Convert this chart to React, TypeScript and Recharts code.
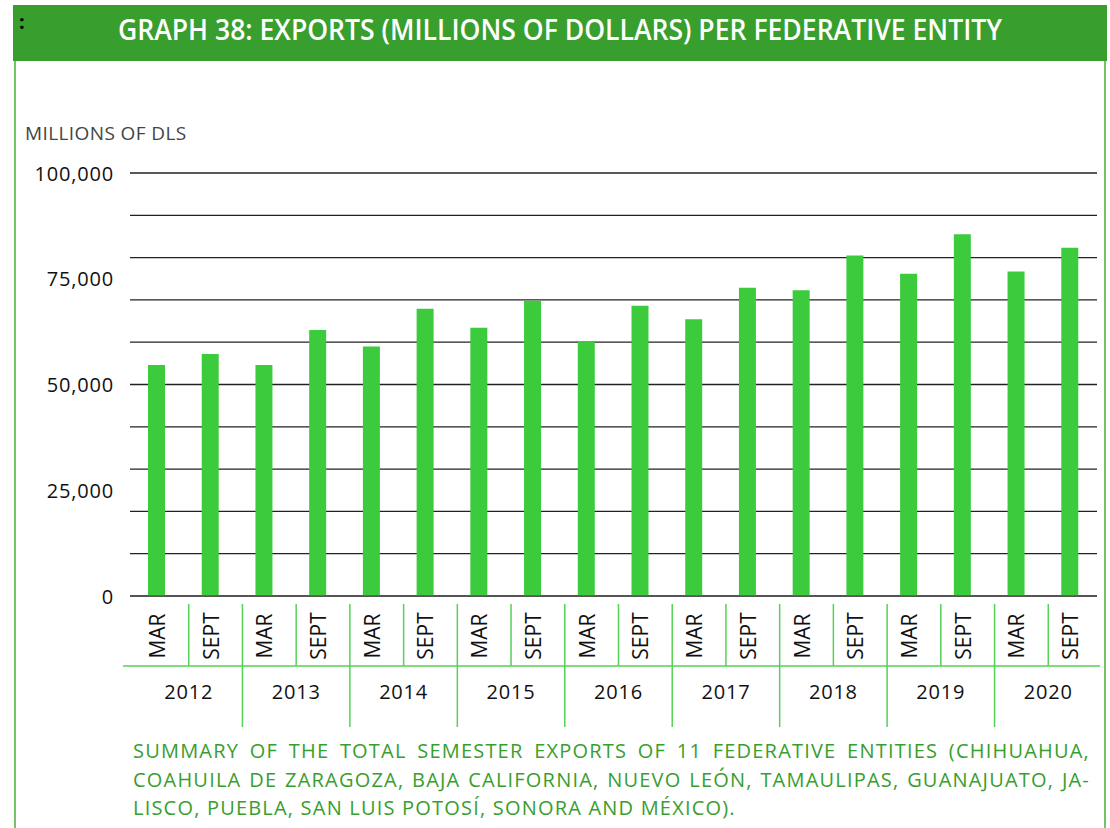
import { BarChart, Bar, XAxis, YAxis, CartesianGrid } from 'recharts';

const years = ['2012', '2013', '2014', '2015', '2016', '2017', '2018', '2019', '2020'];
const semesters = ['MAR', 'SEPT'];
// millions of dollars, MAR / SEPT per year
const exportValues = [
  54600, 57200, 54600, 62900, 59000, 67900, 63400, 69800, 60300,
  68600, 65400, 72900, 72300, 80500, 76200, 85500, 76700, 82300,
];
const gridTicks = [0, 10000, 20000, 30000, 40000, 50000, 60000, 70000, 80000, 90000, 100000];
const labelTicks = [0, 25000, 50000, 75000, 100000];

const data = exportValues.map((value, i) => ({
  key: `${years[Math.floor(i / 2)]}-${semesters[i % 2]}`,
  year: years[Math.floor(i / 2)],
  month: semesters[i % 2],
  value,
}));

const FONT = '"Open Sans", "Noto Sans", sans-serif';
const HEADER_GREEN = '#389e2e';
const BAR_GREEN = '#3bcb3c';
const TABLE_GREEN = '#55d155';
const FRAME_GREEN = '#72c466';

const PLOT_LEFT = 130;
const PLOT_RIGHT = 1097;
const STEP = (PLOT_RIGHT - PLOT_LEFT) / exportValues.length;
const TABLE_SHIFT = 5;

const TableTick = (props: any) => {
  const { x, y, payload } = props;
  const index = payload?.index ?? props.index ?? 0;
  const row = data[index];
  if (!row) return null;
  const left = x - STEP / 2 + TABLE_SHIFT;
  const right = x + STEP / 2 + TABLE_SHIFT;
  const top = y + 8;
  const mid = y + 70;
  const bottom = y + 131;
  const last = index === data.length - 1;
  return (
    <g>
      {index > 0 && (
        <line
          x1={left}
          x2={left}
          y1={top}
          y2={row.month === 'MAR' ? bottom : mid}
          stroke={TABLE_GREEN}
          strokeWidth={1.5}
        />
      )}
      <line
        x1={index === 0 ? left - 12 : left}
        x2={last ? right - 2 : right}
        y1={mid}
        y2={mid}
        stroke={TABLE_GREEN}
        strokeWidth={1.5}
      />
      <text
        transform={`translate(${x},${y + 40}) rotate(-90)`}
        textAnchor="middle"
        dominantBaseline="central"
        fontSize={21}
        fill="#111"
        fontFamily={FONT}
      >
        {row.month}
      </text>
      {row.month === 'SEPT' && (
        <text
          x={left}
          y={y + 95}
          textAnchor="middle"
          dominantBaseline="central"
          fontSize={20}
          fill="#111"
          fontFamily={FONT}
          letterSpacing={0.8}
        >
          {row.year}
        </text>
      )}
    </g>
  );
};

const YTick = (props: any) => {
  const { x, y, payload } = props;
  return (
    <text
      x={x}
      y={y}
      textAnchor="end"
      dominantBaseline="central"
      fontSize={20}
      fill="#111"
      fontFamily={FONT}
      letterSpacing={0.8}
    >
      {Number(payload.value).toLocaleString('en-US')}
    </text>
  );
};

export default function App() {
  return (
    <div
      style={{
        position: 'absolute',
        left: 0,
        top: 0,
        width: 1110,
        height: 828,
        background: '#fff',
        fontFamily: FONT,
        overflow: 'hidden',
      }}
    >
      {/* ─── header ─── */}
      <div
        style={{
          position: 'absolute',
          left: 13,
          top: 5,
          width: 1094,
          height: 56,
          background: HEADER_GREEN,
        }}
      >
        <svg width={1094} height={56} style={{ display: 'block' }}>
          <text x={6} y={24} fontSize={20} fill="#000" fontWeight={700} fontFamily={FONT}>
            :
          </text>
          <text
            x={547}
            y={35}
            textAnchor="middle"
            fontSize={28}
            fill="#fff"
            fontWeight={600}
            fontFamily={FONT}
            textLength={884}
            lengthAdjust="spacingAndGlyphs"
          >
            GRAPH 38: EXPORTS (MILLIONS OF DOLLARS) PER FEDERATIVE ENTITY
          </text>
        </svg>
      </div>

      {/* ─── frame ─── */}
      <div style={{ position: 'absolute', left: 14, top: 61, width: 2, height: 767, background: FRAME_GREEN }} />
      <div style={{ position: 'absolute', left: 1104, top: 61, width: 2, height: 767, background: FRAME_GREEN }} />

      <div
        style={{
          position: 'absolute',
          left: 25,
          top: 120,
          fontSize: 19,
          lineHeight: '26px',
          letterSpacing: 0.4,
          color: '#444',
        }}
      >
        MILLIONS OF DLS
      </div>

      {/* ─── chart ─── */}
      <div style={{ position: 'absolute', left: 0, top: 0 }}>
        <BarChart
          width={1110}
          height={740}
          data={data}
          margin={{ top: 173, right: 1110 - PLOT_RIGHT, bottom: 0, left: 0 }}
          barSize={17}
        >
          <CartesianGrid vertical={false} horizontalValues={gridTicks} stroke="#222" strokeWidth={1.3} />
          <YAxis
            width={PLOT_LEFT}
            domain={[0, 100000]}
            ticks={labelTicks}
            type="number"
            axisLine={false}
            tickLine={false}
            tickSize={0}
            tickMargin={16}
            tick={<YTick />}
          />
          <XAxis
            dataKey="key"
            height={144}
            interval={0}
            tickLine={false}
            tickSize={0}
            tickMargin={0}
            axisLine={{ stroke: '#555', strokeWidth: 1.5 }}
            tick={<TableTick />}
          />
          <Bar dataKey="value" fill={BAR_GREEN} isAnimationActive={false} />
        </BarChart>
      </div>

      {/* ─── note ─── */}
      <div
        style={{
          position: 'absolute',
          left: 133,
          top: 737,
          width: 957,
          fontSize: 20,
          lineHeight: '28.5px',
          letterSpacing: 1.2,
          color: HEADER_GREEN,
          whiteSpace: 'nowrap',
        }}
      >
        <div style={{ textAlign: 'justify', textAlignLast: 'justify' }}>
          SUMMARY OF THE TOTAL SEMESTER EXPORTS OF 11 FEDERATIVE ENTITIES (CHIHUAHUA,
        </div>
        <div style={{ textAlign: 'justify', textAlignLast: 'justify' }}>
          COAHUILA DE ZARAGOZA, BAJA CALIFORNIA, NUEVO LEÓN, TAMAULIPAS, GUANAJUATO, JA-
        </div>
        <div>LISCO, PUEBLA, SAN LUIS POTOSÍ, SONORA AND MÉXICO).</div>
      </div>
    </div>
  );
}
